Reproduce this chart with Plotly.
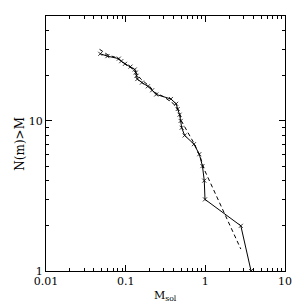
import plotly.graph_objects as go
import numpy as np

# Solid series: cumulative counts vs mass
mass_solid = [0.048, 0.059, 0.082, 0.088, 0.098, 0.115, 0.13, 0.134, 0.137, 0.14,
              0.16, 0.19, 0.215, 0.242, 0.37, 0.43, 0.45, 0.475, 0.49, 0.505,
              0.55, 0.72, 0.84, 0.92, 0.97, 0.99, 2.79, 3.75]
n_solid = [28, 27, 26, 25, 24, 23, 22, 21, 20, 19, 18, 17, 16, 15, 14, 13, 12,
           11, 10, 9, 8, 7, 6, 5, 4, 3, 2, 1]

# Dashed series
mass_dash = [0.047, 0.06, 0.075, 0.09, 0.105, 0.125, 0.14, 0.155, 0.175, 0.2,
             0.23, 0.3, 0.4, 0.47, 0.5, 0.586, 0.72, 0.86, 0.96, 2.79]
n_dash = [30, 27.5, 26.5, 25, 23.5, 22, 20.5, 19, 18, 17, 15.5, 14.5, 13, 11.5,
          10, 8.7, 7.1, 5.8, 4.8, 1.4]

x_ticks = [0.01, 0.1, 1, 10]
x_tick_text = ["0.01", "0.1", "1", "10"]
y_ticks = [1, 10]
y_tick_text = ["1", "10"]

FONT = "DejaVu Serif"

fig = go.Figure()
fig.add_trace(go.Scatter(x=mass_dash, y=n_dash, mode="lines",
                         line=dict(color="black", width=1, dash="4px,3px"),
                         showlegend=False))
fig.add_trace(go.Scatter(x=mass_solid, y=n_solid, mode="lines+markers",
                         line=dict(color="black", width=1),
                         marker=dict(symbol="x-thin-open", size=4,
                                     line=dict(color="black", width=0.8)),
                         showlegend=False))

axis_common = dict(type="log", showgrid=False, zeroline=False, showline=True,
                   linecolor="black", linewidth=1, mirror="allticks",
                   ticks="inside", ticklen=6, tickcolor="black", tickwidth=1,
                   tickfont=dict(family=FONT, size=11, color="black"),
                   minor=dict(ticks="inside", ticklen=3, tickcolor="black",
                              tickwidth=1, dtick="D1", showgrid=False))

fig.update_xaxes(range=[-2, 1], tickvals=x_ticks, ticktext=x_tick_text,
                 **axis_common)
fig.update_yaxes(range=[0, np.log10(50)], tickvals=y_ticks,
                 ticktext=y_tick_text, **axis_common)

fig.add_annotation(text="M<sub>sol</sub>", xref="paper", yref="paper",
                   x=0.5, y=-0.063, yanchor="top", showarrow=False,
                   font=dict(family=FONT, size=11, color="black"))
fig.add_annotation(text="N(m)>M", xref="paper", yref="paper",
                   x=-0.15, y=0.5, textangle=-90, showarrow=False,
                   font=dict(family=FONT, size=12, color="black"))

fig.update_layout(width=304, height=304, plot_bgcolor="white",
                  paper_bgcolor="white",
                  margin=dict(l=46, r=16, t=16, b=33))

fig.write_html("out.html", config={"displayModeBar": False},
               post_script="document.body.style.margin='0';document.body.style.overflow='hidden';")
